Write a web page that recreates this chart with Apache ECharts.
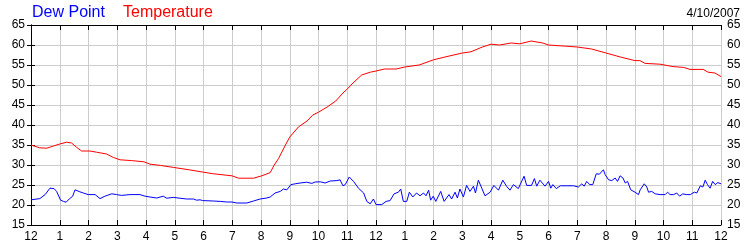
<!DOCTYPE html>
<html><head><meta charset="utf-8">
<script src="https://cdn.jsdelivr.net/npm/echarts@6/dist/echarts.min.js"></script>
<style>html,body{margin:0;padding:0;background:#fff}#c{width:750px;height:250px}</style>
</head><body><div id="c"></div>
<script>
// hours since midnight, values in °F
const hourTicks = [12,1,2,3,4,5,6,7,8,9,10,11,12,1,2,3,4,5,6,7,8,9,10,11,12];
const temperature = [
[0,35],[0.3,34.3],[0.55,34.2],[0.78,34.75],[1.0,35.25],[1.24,35.7],[1.41,35.5],[1.59,34.4],[1.76,33.5],
[2.05,33.5],[2.28,33.2],[2.63,32.75],[2.86,31.9],[3.1,31.3],[3.5,31.1],[3.93,30.8],[4.14,30.2],[4.5,29.9],
[4.95,29.4],[5.5,28.8],[6.0,28.2],[6.35,27.8],[6.99,27.3],[7.22,26.7],[7.74,26.7],[8.03,27.3],[8.32,28.1],
[8.46,30],[8.61,31.6],[8.85,35],[9.0,37],[9.3,39.5],[9.6,41],[9.8,42.5],[10.0,43.2],[10.3,44.5],[10.6,46],
[10.85,48],[11.0,49],[11.2,50.5],[11.5,52.5],[11.8,53.2],[12.0,53.5],[12.3,54],[12.7,54],[13.0,54.5],
[13.5,55],[14.0,56.3],[14.4,57],[15.0,58],[15.3,58.3],[15.7,59.5],[16.0,60.2],[16.3,60],[16.7,60.5],
[17.0,60.3],[17.4,61],[17.8,60.5],[18.0,60],[18.6,59.7],[19.0,59.5],[19.5,59],[20.0,58],[20.5,57],
[21.0,56.1],[21.18,56.1],[21.36,55.4],[21.88,55.2],[22.33,54.6],[22.7,54.4],[22.92,53.9],[23.38,53.9],
[23.55,53.2],[23.79,53],[24.0,52.1]
];
const dewPoint = [
[0,21.3],[0.31,21.6],[0.49,22.6],[0.66,24.2],[0.80,24.1],[0.89,23.4],[1.03,21.2],[1.13,20.9],[1.22,20.7],
[1.33,21.5],[1.45,22.2],[1.53,23.8],[1.59,24.0],[1.70,23.3],[1.82,23.0],[1.88,22.6],[1.99,22.6],[2.23,22.6],
[2.40,21.6],[2.57,22.2],[2.81,22.8],[2.98,22.6],[3.15,22.4],[3.44,22.6],[3.79,22.6],[3.97,22.2],[4.14,22.0],
[4.37,21.75],[4.60,22.2],[4.72,21.7],[4.95,21.9],[5.18,21.7],[5.41,21.5],[5.65,21.5],[5.76,21.2],[5.88,21.3],
[5.97,21.1],[6.35,21.0],[6.58,20.9],[6.81,20.75],[6.99,20.75],[7.16,20.5],[7.51,20.5],[7.74,21.0],[7.97,21.5],
[8.20,21.75],[8.32,22.0],[8.49,23.0],[8.67,23.4],[8.78,24.0],[8.90,23.8],[9.04,25.1],[9.19,25.3],[9.36,25.5],
[9.59,25.7],[9.77,25.4],[9.88,25.75],[10.06,25.8],[10.23,25.5],[10.41,26.0],[10.64,26.1],[10.75,26.3],
[10.85,24.8],[10.93,25.1],[11.07,27.0],[11.22,25.9],[11.39,24.2],[11.57,23.0],[11.68,20.9],[11.80,20.3],
[11.91,21.5],[12.0,20.1],[12.20,20.1],[12.35,20.9],[12.49,21.1],[12.63,22.8],[12.78,23.2],[12.86,24.0],
[12.95,20.9],[13.07,20.9],[13.16,23.2],[13.28,22.0],[13.41,23.0],[13.53,22.3],[13.65,23.0],[13.74,22.3],
[13.83,23.7],[13.90,21.2],[13.99,22.2],[14.08,20.9],[14.25,23.4],[14.37,20.9],[14.54,22.6],[14.63,21.5],
[14.75,23.2],[14.83,21.75],[14.92,24.0],[15.04,22.0],[15.15,24.9],[15.27,23.4],[15.39,24.7],[15.46,23.0],
[15.56,26.2],[15.68,24.2],[15.79,22.3],[15.97,23.2],[16.10,24.9],[16.26,23.7],[16.41,26.2],[16.54,24.7],
[16.66,23.7],[16.78,25.1],[16.95,24.1],[17.15,27.2],[17.24,24.9],[17.41,24.9],[17.51,26.6],[17.59,24.7],
[17.70,26.2],[17.88,24.7],[18.0,25.9],[18.08,24.2],[18.15,25.1],[18.27,24.1],[18.41,24.8],[18.64,24.8],
[18.87,24.8],[19.04,24.5],[19.16,25.3],[19.24,24.7],[19.33,25.9],[19.43,25.1],[19.54,25.1],[19.66,27.8],
[19.77,27.7],[19.83,28.1],[19.91,28.8],[19.97,27.6],[20.09,26.3],[20.20,26.1],[20.32,26.75],[20.40,25.9],
[20.49,27.3],[20.59,26.75],[20.67,25.5],[20.75,25.9],[20.86,23.8],[21.01,23.2],[21.13,22.6],[21.19,23.8],
[21.33,25.3],[21.42,24.5],[21.48,23.2],[21.59,23.4],[21.71,22.8],[21.88,22.6],[22.06,22.6],[22.14,23.2],
[22.23,22.6],[22.35,22.6],[22.46,23.0],[22.56,22.2],[22.67,22.8],[22.79,22.6],[22.93,22.6],[23.07,23.2],
[23.16,23.0],[23.28,24.8],[23.37,24.5],[23.45,26.2],[23.53,25.1],[23.62,24.2],[23.71,25.9],[23.80,25.1],
[23.89,25.6],[24.0,25.3]
];
const dateLabel = '4/10/2007';
const FONT = '"Liberation Sans", Arial, sans-serif';

const chart = echarts.init(document.getElementById('c'), null, {renderer: 'canvas'});
const axisLine = {show: true, lineStyle: {color: '#000', width: 1}};
const split = {show: true, lineStyle: {color: '#cccccc', width: 1}};
const yLab = {fontFamily: FONT, fontSize: 12, color: '#000', margin: 6};
chart.setOption({
  animation: false,
  backgroundColor: '#fff',
  title: [
    {text: 'Dew Point', left: 32, top: 5, padding: 0, textStyle: {fontFamily: FONT, fontSize: 16, fontWeight: 'normal', color: '#0000ff'}},
    {text: 'Temperature', left: 123, top: 5, padding: 0, textStyle: {fontFamily: FONT, fontSize: 16, fontWeight: 'normal', color: '#ff0000'}},
    {text: dateLabel, right: 10, top: 8, padding: 0, textStyle: {fontFamily: FONT, fontSize: 12, fontWeight: 'normal', color: '#000'}}
  ],
  grid: {left: 31, right: 29, top: 25, bottom: 25, containLabel: false},
  xAxis: [
    {type: 'value', min: 0, max: 24, interval: 1, position: 'bottom',
     axisLine: axisLine, axisTick: {show: true, inside: true, length: 5, lineStyle: {color: '#000'}},
     splitLine: split,
     axisLabel: {fontFamily: FONT, fontSize: 12, color: '#000', margin: 6,
       formatter: v => String(hourTicks[Math.round(v)])}},
    {type: 'value', min: 0, max: 24, interval: 1, position: 'top',
     axisLine: axisLine, axisTick: {show: true, inside: true, length: 5, lineStyle: {color: '#000'}},
     splitLine: {show: false}, axisLabel: {show: false}}
  ],
  yAxis: [
    {type: 'value', min: 15, max: 65, interval: 5, position: 'left',
     axisLine: axisLine, axisTick: {show: true, length: 4, lineStyle: {color: '#000'}},
     splitLine: split, axisLabel: yLab},
    {type: 'value', min: 15, max: 65, interval: 5, position: 'right',
     axisLine: axisLine, axisTick: {show: true, length: 4, lineStyle: {color: '#000'}},
     splitLine: {show: false}, axisLabel: yLab}
  ],
  series: [
    {name: 'Temperature', type: 'line', data: temperature, showSymbol: false, symbol: 'none',
     lineStyle: {color: '#ff0000', width: 1}, itemStyle: {color: '#ff0000'}, z: 3},
    {name: 'Dew Point', type: 'line', data: dewPoint, showSymbol: false, symbol: 'none',
     lineStyle: {color: '#0000ff', width: 1}, itemStyle: {color: '#0000ff'}, z: 4}
  ]
});
</script></body></html>
